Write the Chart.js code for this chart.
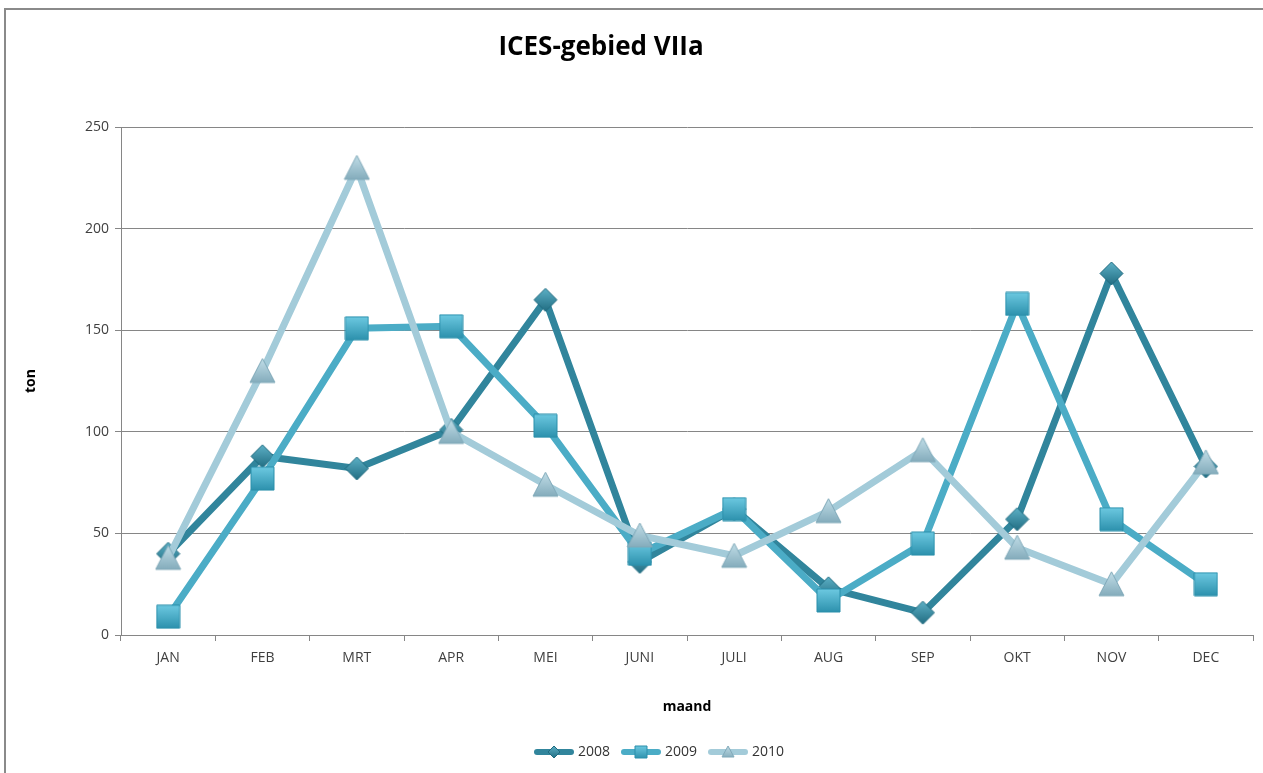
<!DOCTYPE html>
<html>
<head>
<meta charset="utf-8">
<script src="https://cdn.jsdelivr.net/npm/chart.js@4.4.0/dist/chart.umd.min.js"></script>
<style>
  html, body { margin: 0; padding: 0; background: #fff; }
  #wrap { position: relative; width: 1263px; height: 773px; overflow: hidden; }
  #frame { position: absolute; left: 4px; top: 8px; width: 1300px; height: 800px;
           border-left: 2px solid #8a8a8a; border-top: 2px solid #8a8a8a; pointer-events: none; }
  #chart { position: absolute; left: 0; top: 0; }
</style>
</head>
<body>
<div id="wrap">
  <canvas id="chart" width="1263" height="773"></canvas>
  <div id="frame"></div>
</div>
<script>
  const months = ['JAN', 'FEB', 'MRT', 'APR', 'MEI', 'JUNI', 'JULI', 'AUG', 'SEP', 'OKT', 'NOV', 'DEC'];
  const years = ['2008', '2009', '2010'];
  const v2008 = [40, 88, 82, 101, 165, 36, 62, 23, 11, 57, 178, 83];
  const v2009 = [9, 77, 151, 152, 103, 40, 62, 17, 45, 163, 57, 25];
  const v2010 = [38, 130, 230, 100, 74, 49, 39, 61, 91, 43, 25, 85];
  const yTicks = [0, 50, 100, 150, 200, 250];

  const lineColors = ['#31859c', '#4bacc6', '#a3cbd9'];
  const markerTops = ['#5fb3c9', '#6fcbe3', '#c4e0ea'];
  const markerBottoms = ['#1f6a7f', '#2a8fab', '#7fa8b8'];
  const shapes = ['diamond', 'square', 'triangle'];

  // little gradient marker, drawn on its own canvas so Chart.js can use it as pointStyle
  function makeMarker(shape, top, bottom, size) {
    const cv = document.createElement('canvas');
    cv.width = size; cv.height = size;
    const c = cv.getContext('2d');
    const g = c.createLinearGradient(0, 0, 0, size);
    g.addColorStop(0, top);
    g.addColorStop(1, bottom);
    const h = size / 2;
    c.beginPath();
    if (shape === 'diamond') {
      c.moveTo(h, 1); c.lineTo(size - 1, h); c.lineTo(h, size - 1); c.lineTo(1, h);
    } else if (shape === 'square') {
      c.rect(1, 1, size - 2, size - 2);
    } else {
      c.moveTo(h, 1); c.lineTo(size - 1, size - 2); c.lineTo(1, size - 2);
    }
    c.closePath();
    c.fillStyle = g;
    c.fill();
    c.lineWidth = 1;
    c.strokeStyle = bottom;
    c.stroke();
    return cv;
  }

  function makeLegendIcon(i) {
    const cv = document.createElement('canvas');
    cv.width = 40; cv.height = 16;
    const c = cv.getContext('2d');
    c.strokeStyle = lineColors[i];
    c.lineWidth = 6;
    c.lineCap = 'round';
    c.beginPath(); c.moveTo(3, 8); c.lineTo(37, 8); c.stroke();
    const m = makeMarker(shapes[i], markerTops[i], markerBottoms[i], 14);
    c.drawImage(m, 13, 1);
    return cv;
  }

  const sizes = [25, 25, 27];
  const markers = shapes.map((s, i) => makeMarker(s, markerTops[i], markerBottoms[i], sizes[i]));
  const legendIcons = years.map((y, i) => makeLegendIcon(i));
  const series = [v2008, v2009, v2010];

  const datasets = years.map((y, i) => ({
    label: y,
    data: series[i],
    borderColor: lineColors[i],
    backgroundColor: lineColors[i],
    borderWidth: 7,
    pointStyle: markers[i],
    pointRadius: 12,
    tension: 0,
    order: 3 - i
  }));

  // nudge title left and legend right, like the original sheet
  const nudge = {
    id: 'nudge',
    afterLayout(chart) {
      const t = chart.titleBlock;
      if (t) t.right = 2 * 601 - t.left;
      const l = chart.legend;
      if (l) { l.left += 24; l.right += 24; }
    }
  };

  new Chart(document.getElementById('chart'), {
    type: 'line',
    data: { labels: months, datasets },
    plugins: [nudge],
    options: {
      responsive: false,
      animation: false,
      layout: { autoPadding: false, padding: { left: 20, right: 10, top: 0, bottom: 4 } },
      plugins: {
        tooltip: { enabled: false },
        title: {
          display: true,
          text: 'ICES-gebied VIIa',
          color: '#000',
          font: { family: 'Open Sans', size: 26, weight: 'bold' },
          padding: { top: 32, bottom: 64 }
        },
        legend: {
          position: 'bottom',
          labels: {
            usePointStyle: true,
            pointStyleWidth: 34,
            boxHeight: 13,
            padding: 14,
            color: '#333',
            font: { family: 'Open Sans', size: 14 },
            sort: (a, b) => a.datasetIndex - b.datasetIndex,
            generateLabels: chart => chart.data.datasets.map((ds, i) => ({
              text: ds.label,
              pointStyle: legendIcons[i],
              datasetIndex: i,
              fillStyle: 'transparent',
              strokeStyle: 'transparent',
              lineWidth: 0,
              fontColor: '#333',
              hidden: false
            }))
          }
        }
      },
      scales: {
        x: {
          offset: true,
          afterFit: s => { s.height = 96; },
          grid: { offset: true, drawOnChartArea: false, color: '#868686', tickLength: 6 },
          border: { color: '#868686' },
          ticks: { color: '#404040', padding: 9, font: { family: 'Open Sans', size: 14 } },
          title: {
            display: true, text: 'maand', color: '#000',
            font: { family: 'Open Sans', size: 14, weight: 'bold' },
            padding: { top: 0, bottom: 16 }
          }
        },
        y: {
          min: 0,
          max: 250,
          afterFit: s => { s.width = 101; },
          afterBuildTicks: s => { s.ticks = yTicks.map(v => ({ value: v })); },
          grid: { color: '#868686', tickLength: 6 },
          border: { color: '#868686' },
          ticks: { color: '#404040', padding: 6, font: { family: 'Open Sans', size: 14 } },
          title: {
            display: true, text: 'ton', color: '#000',
            font: { family: 'Open Sans', size: 14, weight: 'bold' },
            padding: { top: 3, bottom: 0 }
          }
        }
      }
    }
  });
</script>
</body>
</html>
